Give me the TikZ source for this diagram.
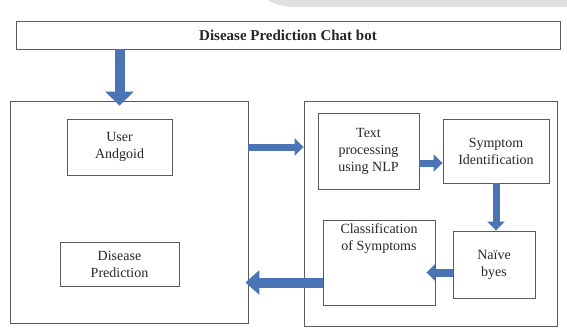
\documentclass[tikz,border=0pt]{standalone}
\usepackage{fontspec}
\setmainfont{Liberation Serif}
\usepackage{tikz}
\usetikzlibrary{positioning}
\usetikzlibrary{calc}
\usetikzlibrary{arrows.meta}
\definecolor{arrowblue}{HTML}{4A74B4}
\definecolor{boxgray}{HTML}{5A5A5A}

\begin{document}
\begin{tikzpicture}[x=1pt, y=-1pt,
		box/.style={draw=boxgray, line width=0.9pt, align=center, inner sep=2pt, text=black!85, font=\fontsize{14}{17}\selectfont},
		barrow/.style={draw=arrowblue, line width=7pt, -{Triangle[width=17pt, length=9pt]}},
		bigarrow/.style={draw=arrowblue, line width=10pt, -{Triangle[width=28pt, length=14pt]}}]
			\useasboundingbox (0,0) rectangle (567,327);
			% faint band at the top
			\fill[black!12] (268,0) -- (567,0) -- (567,7) -- (300,7) to[out=180, in=-30] cycle;
			% main blocks
			\node[box, minimum width=544, minimum height=28, font=\bfseries\fontsize{15}{17}\selectfont] (title) at (288,35) {Disease Prediction Chat bot};
			\node[box, minimum width=238, minimum height=222] (leftbox) at (129,212) {};
			\node[box, minimum width=253, minimum height=225] (rightbox) at (430.5,213.5) {};
			% left side
			\node[box, minimum width=105, minimum height=56] (ua) at (119.5,147) {User\\Andgoid};
			\node[box, minimum width=119, minimum height=44] (dp) at (119.5,264) {Disease\\Prediction};
			% right side
			\node[box, minimum width=101, minimum height=76] (tp) at (368.5,151) {Text\\processing\\using NLP};
			\node[box, minimum width=106, minimum height=64] (si) at (496,151) {Symptom\\Identification};
			\node[box, minimum width=82, minimum height=67] (nb) at (494,264.5) {Naïve\\byes};
			\node[box, minimum width=112, minimum height=85] (cls) at (379,262.5) {};
			\node[box, draw=none, below=2pt of cls.north] (clstext) {Classification\\of Symptoms};
			% arrows
			\draw[bigarrow] (title.south -| ua.north) -- ([yshift=-5pt]leftbox.north -| ua.north);
			\draw[barrow] (leftbox.east |- ua) -- (rightbox.west |- ua);
			\draw[barrow] ([yshift=-12pt]tp.east) -- ([yshift=-12pt]si.west |- tp.east);
			\draw[barrow] (si.south) -- (nb.north -| si.south);
			\draw[barrow, line width=8pt] ([yshift=-8pt]nb.west) -- ([yshift=-8pt,xshift=-9pt]cls.east |- nb.west);
			\draw[bigarrow, -{Triangle[width=24pt, length=14pt]}] ([yshift=-20pt]cls.west) -- ([xshift=-3pt,yshift=-20pt]leftbox.east |- cls.west);
		\end{tikzpicture}
\end{document}
